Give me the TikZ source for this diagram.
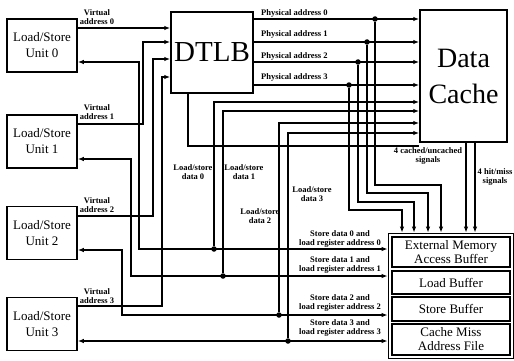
\documentclass[tikz,border=0pt]{standalone}
\usepackage{fontspec}
\setmainfont{Liberation Serif}
\usetikzlibrary{arrows.meta}
\begin{document}
\begin{tikzpicture}[x=1pt, y=-1pt, >={Latex[length=6pt,width=4.5pt]},
  unit/.style={draw, line width=1.5pt, minimum width=70pt, minimum height=53pt, inner sep=0pt, align=center, font=\fontsize{13}{16}\selectfont},
  big/.style={draw, line width=1.5pt, inner sep=0pt, align=center},
  bufbox/.style={draw, line width=1.8pt, minimum width=118pt, inner sep=0pt, align=center, font=\fontsize{13}{14}\selectfont},
  wire/.style={line width=1.3pt},
  lbl/.style={inner sep=0pt, align=center, font=\fontsize{8.5}{8.5}\selectfont\bfseries},
  dot/.style={circle, fill, inner sep=0pt, minimum size=5.5pt}]
\useasboundingbox (0,0) rectangle (514,361);
\node[unit] (lsu0) at (42,45.5) {Load/Store\\Unit 0};
\node[unit] (lsu1) at (42,141.5) {Load/Store\\Unit 1};
\node[unit] (lsu2) at (42,233) {Load/Store\\Unit 2};
\node[unit] (lsu3) at (42,324) {Load/Store\\Unit 3};
\node[big, minimum width=82pt, minimum height=81pt, font=\fontsize{29}{30}\selectfont] (dtlb) at (212,52.5) {DTLB};
\node[big, minimum width=87pt, minimum height=132pt, font=\fontsize{28}{36}\selectfont] (cache) at (463.5,76) {Data\\Cache};
\node[draw, line width=0.8pt, minimum width=125pt, minimum height=125pt, inner sep=0pt] (buf) at (450.5,295.5) {};
\node[bufbox, minimum height=30pt] (emab) at (451,252) {External Memory\\Access Buffer};
\node[bufbox, minimum height=23pt] (lb) at (451,282.5) {Load Buffer};
\node[bufbox, minimum height=24pt] (sb) at (451,309) {Store Buffer};
\node[bufbox, minimum height=31pt] (cmaf) at (451,339.5) {Cache Miss\\Address File};
\node[dot] (d0) at (214,249) {};
\node[dot] (d1) at (223,276) {};
\node[dot] (d2) at (279,315) {};
\node[dot] (d3) at (288,341) {};
\node[dot] (pd0) at (375,19) {};
\node[dot] (pd1) at (367,42) {};
\node[dot] (pd2) at (358,62) {};
\node[dot] (pd3) at (349,85) {};
\draw[wire,->] (lsu0.east |- 0,28) -- (dtlb.west |- 0,28);
\draw[wire,->] (lsu1.east |- 0,124) -| (143,42) -- (dtlb.west |- 0,42);
\draw[wire,->] (lsu2.east |- 0,216) -| (153,59) -- (dtlb.west |- 0,59);
\draw[wire,->] (lsu3.east |- 0,306) -| (162,77) -- (dtlb.west |- 0,77);
\draw[wire,<->] (lsu0.east |- 0,62) -| (139,249) -- (buf.west |- 0,249);
\draw[wire,<->] (lsu1.east |- 0,159) -| (131,276) -- (buf.west |- 0,276);
\draw[wire,<->] (lsu2.east |- 0,250) -| (122,315) -- (buf.west |- 0,315);
\draw[wire,<->] (lsu3.east |- 0,341) -- (buf.west |- 0,341);
\draw[wire,->] (d0) |- (cache.west |- 0,102);
\draw[wire,->] (d1) |- (cache.west |- 0,111);
\draw[wire,->] (d2) |- (cache.west |- 0,123);
\draw[wire,->] (d3) |- (cache.west |- 0,133);
\draw[wire] (dtlb.south -| 188,0) |- (cache.west |- 0,146);
\draw[wire,->] (dtlb.east |- 0,19) -- (cache.west |- 0,19);
\draw[wire,->] (dtlb.east |- 0,42) -- (cache.west |- 0,42);
\draw[wire,->] (dtlb.east |- 0,62) -- (cache.west |- 0,62);
\draw[wire,->] (dtlb.east |- 0,85) -- (cache.west |- 0,85);
\draw[wire,->] (pd0) |- (441,185) -- (buf.north -| 441,0);
\draw[wire,->] (pd1) |- (428,193) -- (buf.north -| 428,0);
\draw[wire,->] (pd2) |- (414,202) -- (buf.north -| 414,0);
\draw[wire,->] (pd3) |- (402,210) -- (buf.north -| 402,0);
\draw[wire,->] (cache.south -| 466,0) -- (buf.north -| 466,0);
\draw[wire,->] (cache.south -| 475,0) -- (buf.north -| 475,0);
\node[lbl] (va0) at (97,17) {Virtual\\address 0};
\node[lbl] (va1) at (97,112) {Virtual\\address 1};
\node[lbl] (va2) at (97,205) {Virtual\\address 2};
\node[lbl] (va3) at (97,296) {Virtual\\address 3};
\node[lbl, anchor=west] (pa0) at (261,13) {Physical address 0};
\node[lbl, anchor=west] (pa1) at (261,34) {Physical address 1};
\node[lbl, anchor=west] (pa2) at (261,56) {Physical address 2};
\node[lbl, anchor=west] (pa3) at (261,77) {Physical address 3};
\node[lbl] (ls0) at (193,172) {Load/store\\data 0};
\node[lbl] (ls1) at (244,172) {Load/store\\data 1};
\node[lbl] (ls2) at (260,216) {Load/store\\data 2};
\node[lbl] (ls3) at (312,194) {Load/store\\data 3};
\node[lbl] (sd0) at (340,239) {Store data 0 and\\load register address 0};
\node[lbl] (sd1) at (340,265) {Store data 1 and\\load register address 1};
\node[lbl] (sd2) at (340,303) {Store data 2 and\\load register address 2};
\node[lbl] (sd3) at (340,328) {Store data 3 and\\load register address 3};
\node[lbl] (cu) at (428,156) {4 cached/uncached\\signals};
\node[lbl] (hm) at (495,177) {4 hit/miss\\signals};
\end{tikzpicture}
\end{document}
